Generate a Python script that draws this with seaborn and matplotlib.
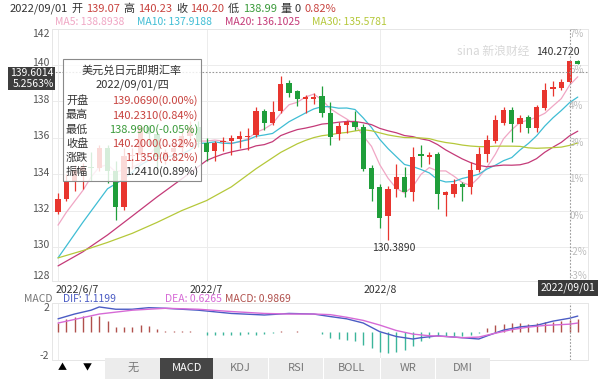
import numpy as np
import pandas as pd
import seaborn as sns
import matplotlib.pyplot as plt
from matplotlib.patches import Rectangle

sns.set_style('white')
plt.rcParams['font.family'] = ['Noto Sans CJK SC', 'DejaVu Sans']
plt.rcParams['axes.unicode_minus'] = False

# ---- values ----
title = '美元兑日元即期汇率'
day_label = '2022/09/01'
weekday = '四'
month_ticks = [0, 18, 39]
month_labels = ['2022/6/7', '2022/7', '2022/8']
price_ticks = [128, 130, 132, 134, 136, 138, 140, 142]

opens = [131.90, 132.63, 133.60, 134.20, 134.40, 134.35, 135.45, 134.20, 132.20, 135.00,
         135.05, 136.60, 136.20, 134.95, 135.20, 135.45, 136.10, 136.60, 135.71, 135.28,
         135.75, 135.85, 135.95, 136.02, 136.15, 137.45, 136.80, 137.45, 139.02, 138.55,
         138.15, 138.15, 138.28, 137.35, 136.21, 136.71, 136.89, 136.61, 134.35, 133.28,
         131.71, 133.19, 133.87, 133.00, 135.10, 134.93, 135.13, 132.87, 132.91, 133.47,
         133.28, 134.24, 135.13, 135.85, 136.80, 137.54, 136.76, 137.17, 136.52, 137.63,
         138.69, 138.75, 139.069, 140.20]
highs = [132.95, 134.00, 134.50, 134.60, 135.20, 135.60, 135.60, 134.70, 135.45, 135.45,
         136.70, 136.70, 136.35, 135.40, 135.60, 136.40, 136.95, 136.90, 135.98, 135.85,
         136.05, 136.15, 136.35, 136.55, 137.72, 137.60, 138.05, 139.39, 139.20, 138.65,
         138.35, 138.45, 138.83, 137.95, 136.85, 136.98, 137.45, 136.75, 134.48, 133.48,
         133.35, 134.58, 134.39, 135.50, 135.59, 135.22, 135.22, 133.09, 133.74, 133.56,
         134.67, 135.50, 136.15, 137.25, 137.72, 137.72, 137.26, 137.26, 137.82, 139.02,
         139.11, 139.25, 140.231, 140.272]
lows = [131.80, 132.55, 133.05, 133.20, 133.60, 134.20, 133.50, 131.50, 132.05, 134.30,
        134.90, 135.60, 134.30, 134.55, 134.80, 135.20, 135.90, 135.50, 134.75, 134.75,
        135.25, 135.05, 135.45, 135.35, 136.05, 136.45, 136.70, 137.35, 138.25, 137.75,
        137.35, 137.85, 137.15, 135.60, 135.87, 136.25, 136.43, 134.15, 132.55, 131.05,
        130.389, 132.72, 132.72, 132.54, 134.39, 134.58, 132.08, 131.71, 132.72, 132.54,
        132.91, 134.11, 134.67, 135.69, 136.71, 135.78, 136.33, 136.24, 136.33, 137.54,
        138.28, 138.60, 138.99, 140.03]
closes = [132.63, 133.60, 134.20, 134.40, 134.35, 135.45, 134.20, 132.20, 135.00, 135.05,
          136.60, 136.20, 134.95, 135.20, 135.45, 136.10, 136.60, 135.75, 135.21, 135.72,
          135.85, 136.00, 136.08, 136.10, 137.45, 136.80, 137.43, 138.93, 138.47, 138.13,
          138.25, 138.22, 137.35, 136.05, 136.65, 136.89, 136.61, 134.30, 133.20, 131.61,
          133.19, 133.83, 133.00, 134.94, 135.00, 135.05, 132.91, 133.00, 133.47, 133.28,
          134.24, 135.09, 135.87, 136.98, 137.54, 136.76, 137.08, 136.52, 137.72, 138.65,
          138.80, 139.065, 140.20, 140.06]
volume = 0

# moving-average values before the window has enough closes
ma5_head_idx = [0, 1, 2, 3]
ma5_head = [131.2, 131.9, 132.5, 133.1]
ma10_head_idx = [0, 3, 6, 8]
ma10_head = [129.4, 131.35, 133.2, 133.75]
ma20_head_idx = [0, 3, 6, 9, 12, 15, 18]
ma20_head = [128.96, 129.73, 130.66, 131.7, 132.75, 133.74, 134.75]
ma30_head_idx = [0, 3, 6, 9, 12, 15, 18, 21, 24, 27]
ma30_head = [129.4, 129.8, 130.25, 130.75, 131.35, 132.0, 132.55, 133.3, 134.3, 135.2]
ma_label_vals = [138.8938, 137.9188, 136.1025, 135.5781]

macd_hist = [0.72, 1.07, 1.26, 1.34, 1.34, 1.34, 0.88, 0.40, 0.40, 0.40,
             0.54, 0.46, 0.19, 0.05, 0.03, 0.02, 0.02, -0.05, -0.26, -0.26,
             -0.26, -0.26, -0.26, -0.21, -0.26, -0.21, -0.13, 0.02, -0.05, 0.02,
             0.01, -0.02, -0.21, -0.53, -0.61, -0.67, -0.80, -1.07, -1.33, -1.68,
             -1.79, -1.68, -1.52, -1.20, -0.80, -0.53, -0.40, -0.35, -0.35, -0.35,
             -0.26, -0.07, 0.27, 0.54, 0.67, 0.72, 0.72, 0.67, 0.72, 0.78,
             0.80, 0.88, 0.99, 1.02]
dif_idx = [0, 2, 4, 5, 7, 9, 11, 13, 17, 21, 25, 28, 31, 33, 35, 37, 39, 41, 43, 44,
           46, 48, 51, 52, 54, 56, 58, 60, 62, 63]
dif_vals = [1.07, 1.47, 1.79, 2.06, 1.87, 1.87, 2.0, 1.95, 1.79, 1.52, 1.39, 1.52, 1.47,
            1.26, 1.07, 0.72, 0.0, -0.4, -0.61, -0.5, -0.35, -0.45, -0.61, -0.35, 0.13,
            0.4, 0.53, 0.88, 1.12, 1.3]
dea_idx = [0, 5, 9, 13, 17, 21, 25, 28, 31, 33, 35, 37, 39, 41, 43, 45, 47, 49, 51, 53,
           55, 57, 59, 62, 63]
dea_vals = [0.72, 1.47, 1.79, 1.95, 1.87, 1.68, 1.52, 1.47, 1.47, 1.42, 1.2, 0.94, 0.55,
            0.1, -0.2, -0.34, -0.4, -0.5, -0.45, -0.13, 0.17, 0.38, 0.52, 0.6265, 0.72]
macd_label_vals = [1.1199, 0.6265, 0.9869]

cursor_idx = 62
cursor_price = 139.6014

# ---- colours ----
RED, GREEN = '#e8352e', '#1f9e3a'
TXT_RED, TXT_GREEN, DARK = '#c8433f', '#3a9a3a', '#333333'
MA_COLORS = ['#f0a6c4', '#3fbdd4', '#c43a78', '#b5c83a']
DIF_C, DEA_C, HRED, HGREEN = '#4b5cc4', '#d66ad6', '#b0504c', '#3bb59a'
GRID = '#ececec'

W, H = 600, 379
fig = plt.figure(figsize=(W / 100, H / 100), dpi=100)
fig.patch.set_facecolor('white')


def box(x0, y0, x1, y1):
    return [x0 / W, 1 - y1 / H, (x1 - x0) / W, (y1 - y0) / H]


def ftext(x, y, s, **kw):
    kw.setdefault('fontsize', 7.5)
    kw.setdefault('va', 'center')
    return fig.text(x / W, 1 - y / H, s, **kw)


ax = fig.add_axes(box(52, 29, 588, 281))
mx = fig.add_axes(box(52, 303, 588, 360))
ylo, yhi = 128.13, 141.98
ax.set_ylim(ylo, yhi)
mx.set_ylim(-2.36, 2.39)
for a in (ax, mx):
    a.set_xlim(-0.73, 64.24)
    a.set_xticks([])
    a.set_yticks([])
    for sp in a.spines.values():
        sp.set_color('#e6e6e6')
        sp.set_linewidth(0.7)
    for t in month_ticks:
        a.axvline(t, color=GRID, lw=0.7, zorder=0)

# price grid and labels (labels sit a touch above their grid line)
for p in price_ticks:
    if ylo < p < yhi:
        ax.axhline(p, color=GRID, lw=0.7, zorder=0)
    if p == price_ticks[-1]:
        yy, va = yhi, 'top'
    elif p == price_ticks[0]:
        yy, va = ylo, 'bottom'
    else:
        yy, va = p + 0.09, 'center'
    ax.text(-0.005, yy, str(p), transform=ax.get_yaxis_transform(), ha='right', va=va,
            fontsize=7.5, color='#555555')
    pct = round((p / closes[0] - 1) * 100)
    yy2 = ylo if p == price_ticks[0] else min(p, yhi)
    va2 = 'bottom' if p == price_ticks[0] else 'top'
    ax.text(0.965, yy2, f'{pct}%', transform=ax.get_yaxis_transform(), ha='left', va=va2,
            fontsize=7, color='#bbbbbb')

# candles
df = pd.DataFrame({'o': opens, 'h': highs, 'l': lows, 'c': closes})
df['i'] = np.arange(len(df))
cols = np.where(df['c'] >= df['o'], RED, GREEN)
ax.vlines(df['i'], df['l'], df['h'], colors=cols, lw=0.9, zorder=3)
body_lo = df[['o', 'c']].min(axis=1)
body_h = (df['c'] - df['o']).abs().clip(lower=0.05)
ax.bar(df['i'], body_h, bottom=body_lo, width=0.64, color=cols, lw=0, zorder=4)

# moving averages
close_s = pd.Series(closes)
heads = [(5, ma5_head_idx, ma5_head), (10, ma10_head_idx, ma10_head),
         (20, ma20_head_idx, ma20_head), (30, ma30_head_idx, ma30_head)]
for (n, hidx, hval), color in zip(heads, MA_COLORS):
    ma = pd.concat([pd.Series(hval, index=hidx), close_s.rolling(n).mean().dropna()])
    sns.lineplot(x=ma.index, y=ma.values, ax=ax, color=color, lw=0.9,
                 estimator=None, legend=False, zorder=2)

# extremes
lo_i = int(df['l'].idxmin())
ax.annotate(f"{df['l'][lo_i]:.4f}", xy=(lo_i, df['l'][lo_i]), xytext=(4, -2),
            textcoords='offset points', ha='center', va='top', fontsize=7.5, color=DARK)
hi_i = int(df['h'].idxmax())
ax.annotate(f"{df['h'][hi_i]:.4f}", xy=(hi_i, df['h'][hi_i]), xytext=(1, 2),
            textcoords='offset points', ha='right', va='bottom', fontsize=7.5, color=DARK)

ax.text(0.823, 0.909, 'sina 新浪财经', transform=ax.transAxes, ha='center', va='center',
        fontsize=8.5, color='#d8d8d8', style='italic', zorder=1)

# crosshair
for a in (ax, mx):
    a.axvline(cursor_idx, color='#999999', lw=0.8, ls=(0, (1.5, 1.5)), zorder=6)
ax.axhline(cursor_price, color='#999999', lw=0.8, ls=(0, (1.5, 1.5)), zorder=6)

# MACD panel
hist = np.array(macd_hist)
mx.vlines(np.arange(len(hist)), 0, hist, colors=np.where(hist >= 0, HRED, HGREEN), lw=1.0)
sns.lineplot(x=dif_idx, y=dif_vals, ax=mx, color=DIF_C, lw=1.0, estimator=None, legend=False)
sns.lineplot(x=dea_idx, y=dea_vals, ax=mx, color=DEA_C, lw=1.0, estimator=None, legend=False)
for a in (ax, mx):
    a.set_xlabel('')
    a.set_ylabel('')
for v in (2, -2):
    mx.text(-0.005, v, str(v), transform=mx.get_yaxis_transform(), ha='right', va='center',
            fontsize=7.5, color='#555555')

# date labels
for t, lab in zip(month_ticks, month_labels):
    ha = 'left' if t == 0 else 'center'
    tx = t - 0.35 if t == 0 else t
    ax.text(tx, -0.036, lab, transform=ax.get_xaxis_transform(), ha=ha, va='center',
            fontsize=7.5, color=DARK)
ftext(568, 288, day_label, color='white', ha='center',
      bbox=dict(boxstyle='square,pad=0.25', fc='#3a3a3a', ec='none'))

# header lines
last = df.iloc[cursor_idx]
prev_close = closes[cursor_idx - 1]
chg_pct = (last['c'] / prev_close - 1) * 100
parts = [(day_label, DARK), ('开', DARK), (f"{last['o']:.2f}", TXT_RED), ('高', DARK),
         (f"{last['h']:.2f}", TXT_RED), ('收', DARK), (f"{last['c']:.2f}", TXT_RED),
         ('低', DARK), (f"{last['l']:.2f}", TXT_GREEN), ('量', DARK), (str(volume), DARK),
         (f'{chg_pct:.2f}%', TXT_RED)]
renderer = fig.canvas.get_renderer()
xpos = 10
for s, c in parts:
    t = ftext(xpos, 9, s, color=c, fontsize=8)
    xpos += t.get_window_extent(renderer).width + 3.5

for (name, val), x0, c in zip(zip(['MA5', 'MA10', 'MA20', 'MA30'], ma_label_vals),
                              [55, 137, 225, 312], MA_COLORS):
    ftext(x0, 22, f'{name}: {val:.4f}', color=c, fontsize=7.5)

ftext(24, 299, 'MACD', color='#777777')
for (name, val), x0, c in zip(zip(['DIF', 'DEA', 'MACD'], macd_label_vals),
                              [63, 165, 225], [DIF_C, DEA_C, HRED]):
    ftext(x0, 299, f'{name}: {val:.4f}', color=c)

# cursor price tag
tag_pct = (cursor_price / closes[0] - 1) * 100
fig.add_artist(Rectangle((8 / W, 1 - 90 / H), 47 / W, 23 / H, transform=fig.transFigure,
                         fc='#3d3d3d', ec='none', zorder=8))
ftext(54, 73.5, f'{cursor_price:.4f}', color='white', ha='right', zorder=9)
ftext(54, 84, f'{tag_pct:.4f}%', color='white', ha='right', zorder=9)

# tooltip
fig.add_artist(Rectangle((63 / W, 1 - 181 / H), 138 / W, 122 / H, transform=fig.transFigure,
                         fc=(1, 1, 1, 0.82), ec='#8a8a8a', lw=0.8, zorder=10))
ftext(132, 70, title, color=DARK, ha='center', fontsize=8, zorder=11)
ftext(132, 85, f'{day_label}/{weekday}', color=DARK, ha='center', fontsize=8, zorder=11)
amp = last['h'] - last['l']
rows = [('开盘', f"{last['o']:.4f}({(last['o'] / prev_close - 1) * 100:.2f}%)", TXT_RED),
        ('最高', f"{last['h']:.4f}({(last['h'] / prev_close - 1) * 100:.2f}%)", TXT_RED),
        ('最低', f"{last['l']:.4f}({(last['l'] / prev_close - 1) * 100:.2f}%)", TXT_GREEN),
        ('收盘', f"{last['c']:.4f}({chg_pct:.2f}%)", TXT_RED),
        ('涨跌', f"{last['c'] - prev_close:.4f}({chg_pct:.2f}%)", TXT_RED),
        ('振幅', f"{amp:.4f}({amp / prev_close * 100:.2f}%)", DARK)]
for k, (lab, val, c) in enumerate(rows):
    y = 101 + k * 14.2
    ftext(66, y, lab, color=DARK, fontsize=8, zorder=11)
    ftext(198, y, val, color=c, ha='right', fontsize=8, zorder=11)

# indicator tab bar
fig.add_artist(Rectangle((105 / W, 0), 385 / W, 21 / H, transform=fig.transFigure,
                         fc='#ececec', ec='none', zorder=8))
fig.add_artist(Rectangle((160 / W, 0), 53 / W, 21 / H, transform=fig.transFigure,
                         fc='#454545', ec='none', zorder=9))
for xs in [268, 323, 380, 435]:
    fig.add_artist(Rectangle((xs / W, 0), 1 / W, 21 / H, transform=fig.transFigure,
                             fc='white', ec='none', zorder=9))
ftext(62, 368, '▲', color='black', ha='center', fontsize=6.5, zorder=10)
ftext(87, 368, '▼', color='black', ha='center', fontsize=6.5, zorder=10)
tabs = ['无', 'MACD', 'KDJ', 'RSI', 'BOLL', 'WR', 'DMI']
tab_x = [133, 187, 240, 296, 352, 408, 463]
for name, tx in zip(tabs, tab_x):
    ftext(tx, 368, name, color='white' if name == 'MACD' else '#777777', ha='center',
          fontsize=8, zorder=10)

fig.savefig('out.png', dpi=100)
